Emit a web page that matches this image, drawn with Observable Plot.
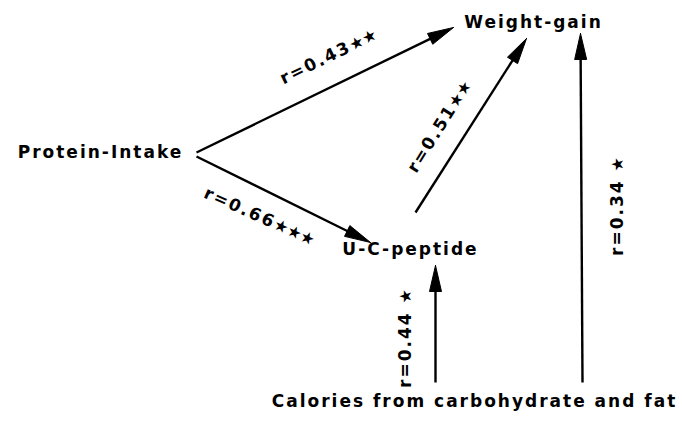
<!DOCTYPE html>
<html><head><meta charset="utf-8">
<script src="https://cdn.jsdelivr.net/npm/d3@7"></script>
<script src="https://cdn.jsdelivr.net/npm/@observablehq/plot@0.6"></script>
<style>
html,body{margin:0;padding:0;background:#fff;}
#chart svg{display:block;}
#chart text{letter-spacing:2px;}
</style></head><body><div id="chart"></div>
<script>
// ---- data ----
const nodeNames = ["Protein-Intake", "Weight-gain", "U-C-peptide", "Calories from carbohydrate and fat"];
const edgeFrom  = ["Protein-Intake", "Protein-Intake", "U-C-peptide", "Calories from carbohydrate and fat", "Calories from carbohydrate and fat"];
const edgeTo    = ["Weight-gain", "U-C-peptide", "Weight-gain", "U-C-peptide", "Weight-gain"];
const edgeR     = [0.43, 0.66, 0.51, 0.44, 0.34];
const edgeStars = [2, 3, 2, 1, 1];

// ---- layout (diagram coordinates) ----
const nodeX = [100, 533, 410, 474];
const nodeY = [152, 22, 249, 401];
const edgeX1 = [196, 196, 415, 435, 582];
const edgeY1 = [152, 156, 212, 382, 382];
const edgeX2 = [453, 370, 526, 435, 580];
const edgeY2 = [27, 242, 38, 265, 33];
const labelX = [328, 259, 439, 405, 617];
const labelY = [56, 216, 126, 338, 206];
const labelAngle = [-26, 24, -58, -90, -90];

const HEAD_L = 26, HEAD_W = 6;

const nodes = nodeNames.map((name, i) => ({name, x: nodeX[i], y: nodeY[i]}));
const edges = edgeFrom.map((f, i) => {
  const x1 = edgeX1[i], y1 = edgeY1[i], x2 = edgeX2[i], y2 = edgeY2[i];
  const len = Math.hypot(x2 - x1, y2 - y1);
  const ux = (x2 - x1) / len, uy = (y2 - y1) / len;
  return {
    from: f, to: edgeTo[i], r: edgeR[i], stars: edgeStars[i],
    x1, y1, x2, y2, ux, uy,
    bx: x2 - ux * (HEAD_L - 4), by: y2 - uy * (HEAD_L - 4),
    label: "r=" + edgeR[i].toFixed(2) + (edgeStars[i] === 1 ? " " : "") + "★".repeat(edgeStars[i]),
    lx: labelX[i], ly: labelY[i], angle: labelAngle[i]
  };
});
const heads = edges.flatMap((e, i) => {
  const bx = e.x2 - e.ux * HEAD_L, by = e.y2 - e.uy * HEAD_L;
  const nx = -e.uy, ny = e.ux;
  return [
    {id: i, x: e.x2, y: e.y2},
    {id: i, x: bx + nx * HEAD_W, y: by + ny * HEAD_W},
    {id: i, x: bx - nx * HEAD_W, y: by - ny * HEAD_W},
    {id: i, x: e.x2, y: e.y2}
  ];
});

const font = "'DejaVu Sans', 'Liberation Sans', Arial, sans-serif";

const svg = Plot.plot({
  width: 682, height: 421,
  margin: 0,
  x: {domain: [0, 682], range: [0, 682], axis: null},
  y: {domain: [0, 421], range: [0, 421], axis: null},
  style: {background: "#fff", color: "#000"},
  marks: [
    Plot.link(edges, {x1: "x1", y1: "y1", x2: "bx", y2: "by", stroke: "#000", strokeWidth: 2.4}),
    Plot.line(heads, {x: "x", y: "y", z: "id", fill: "#000", stroke: "#000", strokeWidth: 1, curve: "linear"}),
    Plot.text(nodes, {x: "x", y: "y", text: "name", fontSize: 17, fontWeight: "bold", fontFamily: font, fill: "#000"}),
    Plot.text(edges, {x: "lx", y: "ly", text: "label", rotate: "angle", fontSize: 17, fontWeight: "bold", fontFamily: font, fill: "#000"})
  ]
});

d3.select(svg).selectAll("text").each(function () {
  const t = this.textContent;
  const i = t.indexOf("★");
  if (i < 0) return;
  const sel = d3.select(this);
  sel.text(null);
  sel.append("tspan").text(t.slice(0, i));
  sel.append("tspan").attr("font-size", 16).attr("letter-spacing", "0px").text(t.slice(i));
});

document.getElementById("chart").appendChild(svg);
</script>
</body></html>
